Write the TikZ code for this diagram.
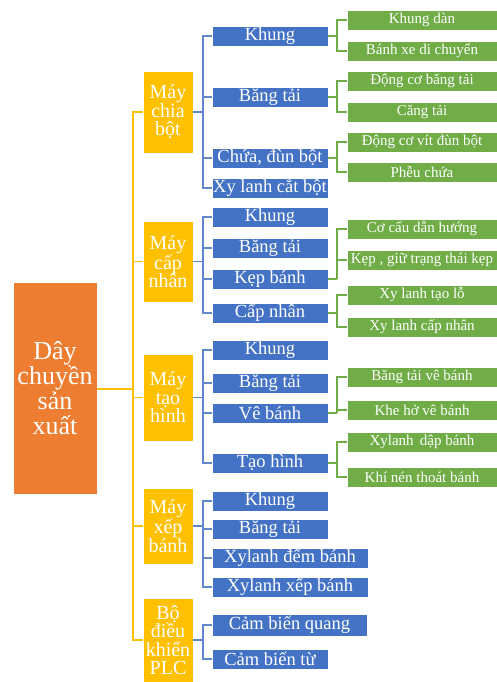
\documentclass[tikz,border=0pt]{standalone}
\usepackage{fontspec}
\setmainfont{Liberation Serif}
\definecolor{corange}{HTML}{ED7D31}
\definecolor{cyellow}{HTML}{FFC000}
\definecolor{cblue}{HTML}{4472C4}
\definecolor{cgreen}{HTML}{70AD47}
\begin{document}
\begin{tikzpicture}[x=1pt,y=-1pt,
 boxbase/.style={draw=white, line width=0.6pt, text=white, inner sep=0pt, align=center},
 rootbox/.style={boxbase, fill=corange, minimum width=84pt, minimum height=212pt, font=\fontsize{26}{25}\selectfont},
 ybox/.style={boxbase, fill=cyellow, minimum width=50pt, font=\fontsize{20}{18.5}\selectfont},
 bbox/.style={boxbase, fill=cblue, minimum width=116pt, minimum height=20pt, font=\fontsize{18.5}{19}\selectfont},
 bwide/.style={bbox, minimum width=156pt},
 gbox/.style={boxbase, fill=cgreen, minimum width=150pt, minimum height=20pt, font=\fontsize{15}{16}\selectfont},
 yl/.style={draw=cyellow, line width=1.6pt},
 bl/.style={draw=cblue!85!white, line width=1.4pt},
 gl/.style={draw=cgreen, line width=1.4pt}]
\useasboundingbox (0,0) rectangle (497,682);

% root
\node[rootbox] (root) at (55,388) {Dây\\chuyền\\sản\\xuất};

% level 1
\node[ybox, minimum height=82pt] (y1) at (168,112) {Máy\\chia\\bột};
\node[ybox, minimum height=81pt] (y2) at (168,261.5) {Máy\\cấp\\nhân};
\node[ybox, minimum height=87pt] (y3) at (168,397.5) {Máy\\tạo\\hình};
\node[ybox, minimum height=76pt] (y4) at (168,526) {Máy\\xếp\\bánh};
\node[ybox, minimum height=84pt] (y5) at (168,640) {Bộ\\điều\\khiển\\PLC};

% level 2
\node[bbox] (b11) at (270,36) {Khung};
\node[bbox] (b12) at (270,97) {Băng tải};
\node[bbox] (b13) at (270,158) {Chứa, đùn bột};
\node[bbox] (b14) at (270,188) {Xy lanh cắt bột};

\node[bbox] (b21) at (270,217) {Khung};
\node[bbox] (b22) at (270,248) {Băng tải};
\node[bbox] (b23) at (270,279) {Kẹp bánh};
\node[bbox] (b24) at (270,313) {Cấp nhân};

\node[bbox] (b31) at (270,350) {Khung};
\node[bbox] (b32) at (270,383) {Băng tải};
\node[bbox] (b33) at (270,413) {Vê bánh};
\node[bbox] (b34) at (270,463) {Tạo hình};

\node[bbox] (b41) at (270,501) {Khung};
\node[bbox] (b42) at (270,529) {Băng tải};
\node[bwide] (b43) at (290,558) {Xylanh đếm bánh};
\node[bwide] (b44) at (290,587) {Xylanh xếp bánh};

\node[bwide, minimum width=155pt, minimum height=22pt] (b51) at (289.5,625) {Cảm biến quang};
\node[bbox] (b52) at (270,659) {Cảm biến từ};

% level 3
\node[gbox] (g1) at (422,20) {Khung dàn};
\node[gbox] (g2) at (422,51) {Bánh xe di chuyển};
\node[gbox] (g3) at (422,81) {Động cơ băng tải};
\node[gbox] (g4) at (422,112) {Căng tải};
\node[gbox] (g5) at (422,142) {Động cơ vít đùn bột};
\node[gbox] (g6) at (422,172) {Phễu chứa};
\node[gbox] (g7) at (422,229) {Cơ cấu dẫn hướng};
\node[gbox] (g8) at (422,260) {Kẹp , giữ trạng thái kẹp};
\node[gbox] (g9) at (422,295) {Xy lanh tạo lỗ};
\node[gbox] (g10) at (422,327) {Xy lanh cấp nhân};
\node[gbox] (g11) at (422,377) {Băng tải vê bánh};
\node[gbox] (g12) at (422,410) {Khe hở vê bánh};
\node[gbox] (g13) at (422,442) {Xylanh \,dập bánh};
\node[gbox] (g14) at (422,477) {Khí nén thoát bánh};

% root connectors
\coordinate (t) at (133,389);
\draw[yl] (root.east |- t) -- (t);
\foreach \n in {y1,y2,y3,y4,y5} \draw[yl] (t) |- (\n.west);

% blue brackets
\coordinate (j1) at (203,112);
\draw[bl] (y1.east) -- (j1);
\foreach \n in {b11,b12,b13,b14} \draw[bl] (j1) |- (\n.west);
\coordinate (j2) at (203,261.5);
\draw[bl] (y2.east) -- (j2);
\foreach \n in {b21,b22,b23,b24} \draw[bl] (j2) |- (\n.west);
\coordinate (j3) at (203,397.5);
\draw[bl] (y3.east) -- (j3);
\foreach \n in {b31,b32,b33,b34} \draw[bl] (j3) |- (\n.west);
\coordinate (j4) at (203,526);
\draw[bl] (y4.east) -- (j4);
\foreach \n in {b41,b42,b43,b44} \draw[bl] (j4) |- (\n.west);
\coordinate (j5) at (203,640);
\draw[bl] (y5.east) -- (j5);
\foreach \n in {b51,b52} \draw[bl] (j5) |- (\n.west);

% green brackets
\coordinate (k1) at (337,36);
\draw[gl] (b11.east) -- (k1);
\foreach \n in {g1,g2} \draw[gl] (k1) |- (\n.west);
\coordinate (k2) at (337,97);
\draw[gl] (b12.east) -- (k2);
\foreach \n in {g3,g4} \draw[gl] (k2) |- (\n.west);
\coordinate (k3) at (337,158);
\draw[gl] (b13.east) -- (k3);
\foreach \n in {g5,g6} \draw[gl] (k3) |- (\n.west);
\coordinate (k4) at (337,279);
\draw[gl] (b23.east) -- (k4);
\foreach \n in {g7,g8} \draw[gl] (k4) |- (\n.west);
\coordinate (k5) at (337,313);
\draw[gl] (b24.east) -- (k5);
\foreach \n in {g9,g10} \draw[gl] (k5) |- (\n.west);
\coordinate (k6) at (337,413);
\draw[gl] (b33.east) -- (k6);
\foreach \n in {g11,g12} \draw[gl] (k6) |- (\n.west);
\coordinate (k7) at (337,463);
\draw[gl] (b34.east) -- (k7);
\foreach \n in {g13,g14} \draw[gl] (k7) |- (\n.west);
\end{tikzpicture}
\end{document}
